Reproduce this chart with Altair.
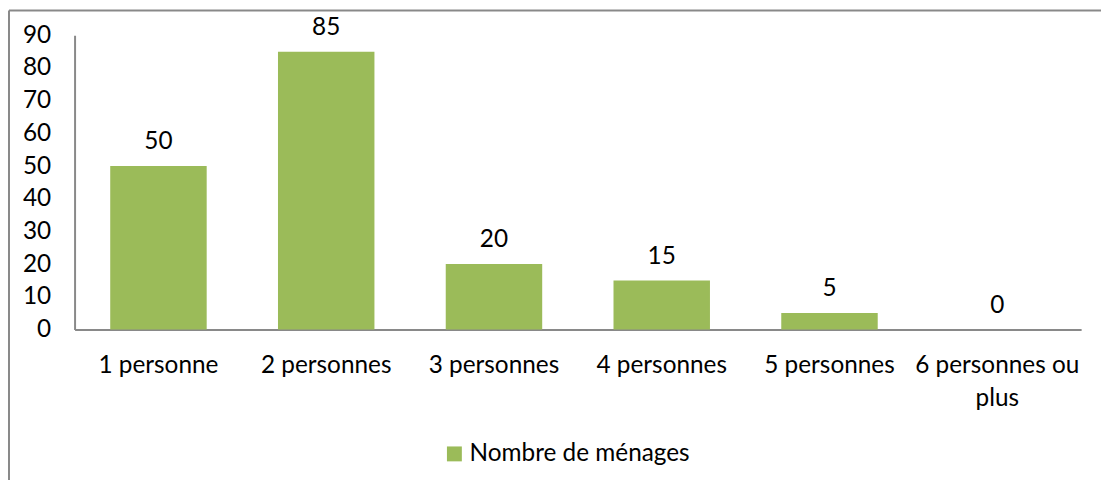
import altair as alt
import pandas as pd

categories = ["1 personne", "2 personnes", "3 personnes", "4 personnes", "5 personnes", "6 personnes ou plus"]
values = [50, 85, 20, 15, 5, 0]
series = "Nombre de ménages"
y_ticks = [0, 10, 20, 30, 40, 50, 60, 70, 80, 90]

df = pd.DataFrame({"cat": categories, "val": values, "serie": [series] * len(categories)})

FONT = "Lato"
FS = 24.5
GREEN = "#9BBB59"
GRAY = "#898989"

x_enc = alt.X("cat:N", sort=categories, title=None,
              scale=alt.Scale(paddingInner=0.425, paddingOuter=0.2125),
              axis=alt.Axis(labelAngle=0, ticks=False, domainColor=GRAY, domainWidth=2,
                            labelFont=FONT, labelFontSize=FS, labelColor="#000000",
                            labelPadding=24, labelLineHeight=34, labelLimit=300,
                            labelOverlap=False,
                            labelExpr="datum.label == '6 personnes ou plus' ? ['6 personnes ou', 'plus'] : datum.label"))
y_enc = alt.Y("val:Q", title=None,
              scale=alt.Scale(domain=[0, 90], nice=False),
              axis=alt.Axis(values=y_ticks, ticks=False, grid=False,
                            domainColor=GRAY, domainWidth=2, labelOverlap=False,
                            labelFont=FONT, labelFontSize=FS, labelColor="#000000",
                            labelPadding=24))

base = alt.Chart(df)

bars = base.mark_bar(color=GREEN).encode(
    x=x_enc,
    y=y_enc,
    color=alt.Color("serie:N", scale=alt.Scale(range=[GREEN]),
                    legend=alt.Legend(title=None, orient="none", legendX=370, legendY=409,
                                      symbolType="square", symbolSize=225, symbolStrokeWidth=0,
                                      labelFont=FONT, labelFontSize=FS, labelColor="#000000",
                                      labelOffset=3, labelLimit=400)),
)

labels = base.mark_text(font=FONT, fontSize=FS, color="#000000", dy=-12, baseline="bottom").encode(
    x=x_enc,
    y=y_enc,
    text="val:Q",
)

top_border = alt.Chart(pd.DataFrame({"a": [0]})).mark_rule(color=GRAY, strokeWidth=2).encode(
    x=alt.value(-66), x2=alt.value(1040), y=alt.value(-25)
)
left_border = alt.Chart(pd.DataFrame({"a": [0]})).mark_rule(color=GRAY, strokeWidth=2).encode(
    x=alt.value(-66), y=alt.value(-25), y2=alt.value(460)
)

chart = alt.layer(bars, labels, top_border, left_border).properties(
    width=1013, height=296,
    padding={"left": 67, "top": 26, "right": 20, "bottom": 150},
    autosize=alt.AutoSizeParams(type="none"),
).configure_view(stroke=None)

chart.save("out.html", embed_options={"renderer": "svg", "actions": False})
